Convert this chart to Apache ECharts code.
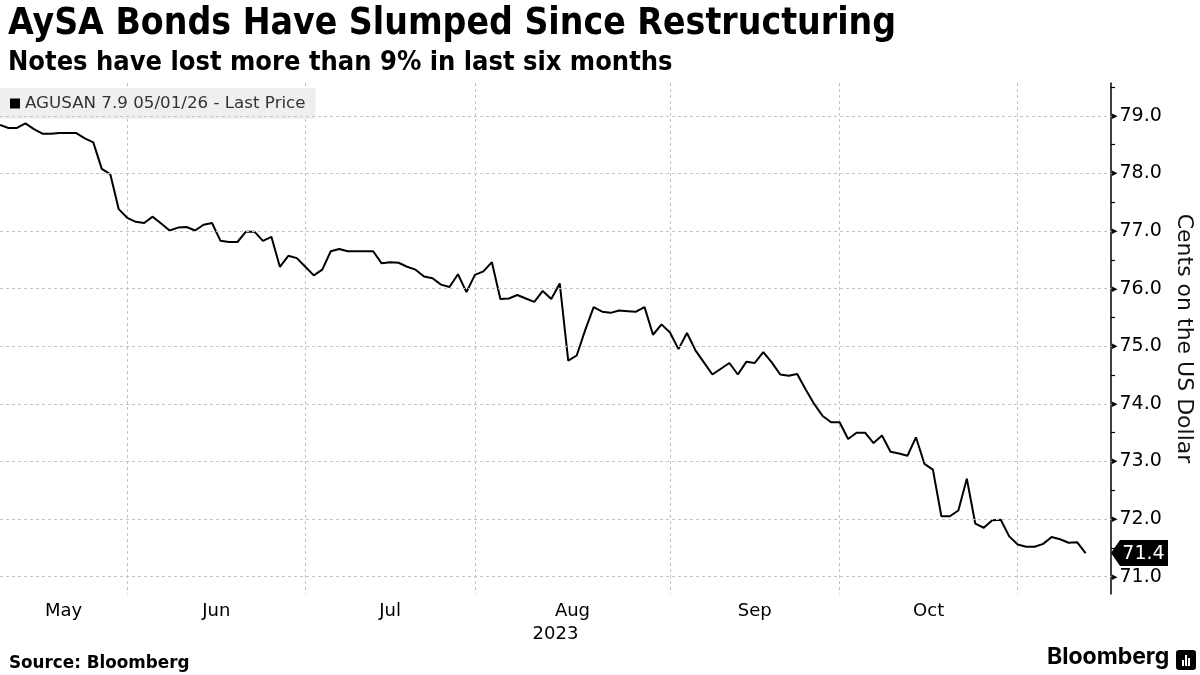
<!DOCTYPE html>
<html><head><meta charset="utf-8">
<script src="https://cdn.jsdelivr.net/npm/echarts@6/dist/echarts.min.js"></script>
<style>html,body{margin:0;padding:0;background:#fff}#c{width:1200px;height:675px}</style>
</head><body><div id="c"></div>
<script>
// Trading days (category axis)
const dates = [
 '2023-05-10','2023-05-11','2023-05-12','2023-05-15','2023-05-16','2023-05-17','2023-05-18','2023-05-19','2023-05-22','2023-05-23','2023-05-24','2023-05-25','2023-05-26','2023-05-30','2023-05-31',
 '2023-06-01','2023-06-02','2023-06-05','2023-06-06','2023-06-07','2023-06-08','2023-06-09','2023-06-12','2023-06-13','2023-06-14','2023-06-15','2023-06-16','2023-06-20','2023-06-21','2023-06-22','2023-06-23','2023-06-26','2023-06-27','2023-06-28','2023-06-29','2023-06-30',
 '2023-07-03','2023-07-05','2023-07-06','2023-07-07','2023-07-10','2023-07-11','2023-07-12','2023-07-13','2023-07-14','2023-07-17','2023-07-18','2023-07-19','2023-07-20','2023-07-21','2023-07-24','2023-07-25','2023-07-26','2023-07-27','2023-07-28','2023-07-31',
 '2023-08-01','2023-08-02','2023-08-03','2023-08-04','2023-08-07','2023-08-08','2023-08-09','2023-08-10','2023-08-11','2023-08-14','2023-08-15','2023-08-16','2023-08-17','2023-08-18','2023-08-21','2023-08-22','2023-08-23','2023-08-24','2023-08-25','2023-08-28','2023-08-29','2023-08-30','2023-08-31',
 '2023-09-01','2023-09-05','2023-09-06','2023-09-07','2023-09-08','2023-09-11','2023-09-12','2023-09-13','2023-09-14','2023-09-15','2023-09-18','2023-09-19','2023-09-20','2023-09-21','2023-09-22','2023-09-25','2023-09-26','2023-09-27','2023-09-28','2023-09-29',
 '2023-10-02','2023-10-03','2023-10-04','2023-10-05','2023-10-06','2023-10-10','2023-10-11','2023-10-12','2023-10-13','2023-10-16','2023-10-17','2023-10-18','2023-10-19','2023-10-20','2023-10-23','2023-10-24','2023-10-25','2023-10-26','2023-10-27','2023-10-30','2023-10-31',
 '2023-11-01','2023-11-02','2023-11-03','2023-11-06','2023-11-07','2023-11-08','2023-11-09','2023-11-10','2023-11-13'
];
// Empty trailing days so the plot reaches the right-hand axis
const padDates = ['2023-11-14','2023-11-15','2023-11-16'];

const prices = [
 78.84,78.79,78.79,78.87,78.77,78.69,78.69,78.70,78.70,78.70,78.61,78.54,78.08,77.99,77.38,
 77.23,77.16,77.14,77.25,77.13,77.01,77.06,77.07,77.01,77.11,77.14,76.83,76.81,76.81,76.99,76.99,76.83,76.90,76.38,76.57,76.53,
 76.38,76.23,76.33,76.65,76.69,76.65,76.65,76.65,76.65,76.44,76.46,76.45,76.38,76.33,76.21,76.18,76.07,76.03,76.25,75.94,
 76.24,76.30,76.46,75.82,75.83,75.89,75.83,75.77,75.96,75.82,76.09,74.75,74.84,75.28,75.68,75.60,75.58,75.62,75.61,75.60,75.68,75.20,75.38,
 75.24,74.95,75.23,74.93,74.72,74.51,74.61,74.71,74.51,74.73,74.71,74.90,74.72,74.51,74.49,74.52,74.25,74.00,73.79,73.68,
 73.68,73.39,73.50,73.50,73.32,73.45,73.17,73.14,73.10,73.42,72.96,72.86,72.05,72.05,72.15,72.70,71.92,71.85,71.98,71.99,71.70,
 71.56,71.52,71.52,71.57,71.69,71.65,71.59,71.60,71.41
];

const yLabelValues = [71,72,73,74,75,76,77,78,79];
const yMinorTicks = [71.5,72.5,73.5,74.5,75.5,76.5,77.5,78.5,79.5];
const yMin = 70.7, yMax = 79.57;
const monthNames = {'05':'May','06':'Jun','07':'Jul','08':'Aug','09':'Sep','10':'Oct','11':'Nov'};
const yearLabel = '2023';
const seriesName = 'AGUSAN 7.9 05/01/26 - Last Price';

const allDates = dates.concat(padDates);
// month start indices
const monthStarts = [];
allDates.forEach((d, i) => {
  if (i === 0 || d.slice(5,7) !== allDates[i-1].slice(5,7)) monthStarts.push(i);
});
const monthStartSet = new Set(monthStarts.filter(i => i > 0));
const monthMids = [];
const monthMidName = {};
for (let k = 0; k < monthStarts.length - 1; k++) {
  const mid = (monthStarts[k] + monthStarts[k+1]) / 2;
  monthMids.push(mid);
  monthMidName[mid] = monthNames[allDates[monthStarts[k]].slice(5,7)];
}
const last = prices[prices.length - 1];
const gridDash = {color: '#c4c4c4', width: 1, type: [3, 3]};

const chart = echarts.init(document.getElementById('c'));
chart.setOption({
  animation: false,
  backgroundColor: '#fff',
  title: [
    {text: 'AySA Bonds Have Slumped Since Restructuring', left: 3, top: 1,
     textStyle: {fontFamily: 'DejaVu Sans Condensed', fontWeight: 'bold', fontSize: 37, color: '#000'}},
    {text: 'Notes have lost more than 9% in last six months', left: 3, top: 44,
     textStyle: {fontFamily: 'DejaVu Sans Condensed', fontWeight: 'bold', fontSize: 27, color: '#000'}},
    {text: 'Source: Bloomberg', left: 4, top: 650,
     textStyle: {fontFamily: 'DejaVu Sans', fontWeight: 'bold', fontSize: 16.8, color: '#000'}}
  ],
  legend: {
    data: [seriesName], left: 0, top: 88, padding: [7, 10, 7, 10],
    backgroundColor: '#efefef', icon: 'rect', itemWidth: 10, itemHeight: 10, itemGap: 5,
    selectedMode: false,
    textStyle: {fontFamily: 'DejaVu Sans', fontSize: 16.7, color: '#333'}
  },
  grid: {left: 0, right: 89, top: 83, bottom: 81, containLabel: false, outerBoundsMode: 'none'},
  xAxis: [
    {type: 'category', data: allDates, boundaryGap: false,
     axisLine: {show: false}, axisTick: {show: false}, axisLabel: {show: false},
     splitLine: {show: true, interval: (i) => monthStartSet.has(i), lineStyle: gridDash}},
    {type: 'value', min: 0, max: allDates.length - 1, position: 'bottom',
     axisLine: {show: false, onZero: false}, axisTick: {show: false}, splitLine: {show: false},
     axisLabel: {show: true, customValues: monthMids, margin: 8,
       formatter: (v) => monthMidName[v] || '',
       fontFamily: 'DejaVu Sans', fontSize: 18, color: '#000'},
     name: yearLabel, nameLocation: 'middle', nameGap: 31,
     nameTextStyle: {fontFamily: 'DejaVu Sans', fontSize: 18, color: '#000'}}
  ],
  yAxis: {
    type: 'value', position: 'right', min: yMin, max: yMax,
    axisLine: {show: true, onZero: false, lineStyle: {color: '#000', width: 1.5}},
    axisTick: {show: true, customValues: yMinorTicks, length: 4, inside: false, lineStyle: {color: '#000', width: 1.2}},
    splitLine: {show: false},
    axisLabel: {show: true, customValues: yLabelValues, margin: 1,
      formatter: (v) => '{a|▸}{b|' + v.toFixed(1) + '}',
      rich: {a: {fontSize: 11, color: '#000', fontFamily: 'DejaVu Sans'},
             b: {fontSize: 19, color: '#000', fontFamily: 'DejaVu Sans', padding: [0, 0, 0, 2]}}},
    name: 'Cents on the US Dollar', nameLocation: 'middle', nameRotate: -90, nameGap: 62,
    nameTextStyle: {fontFamily: 'DejaVu Sans', fontSize: 22, color: '#111'}
  },
  series: [
    {name: '_grid', type: 'line', data: [], z: 1, silent: true, clip: false,
     markLine: {silent: true, symbol: ['none', 'none'], animation: false,
       label: {show: false}, lineStyle: gridDash,
       data: yLabelValues.map(v => ({yAxis: v}))}},
    {name: seriesName, type: 'line', data: prices, z: 3, clip: false,
     showSymbol: false, symbol: 'none', smooth: false,
     itemStyle: {color: '#000'}, lineStyle: {color: '#000', width: 2},
     markPoint: {silent: true, animation: false,
       data: [{coord: [allDates[allDates.length - 1], last], value: last,
         symbol: 'path://M0,13L9,0H57V26H9Z', symbolSize: [57, 26], symbolOffset: [28.5, 0],
         itemStyle: {color: '#000'},
         label: {show: true, position: 'inside', offset: [4, 1],
           formatter: () => last.toFixed(1),
           color: '#fff', fontSize: 19, fontFamily: 'DejaVu Sans'}}]}}
  ],
  graphic: [
    {type: 'text', left: 1047, top: 646,
     style: {text: 'Bloomberg', fontFamily: 'Inter', fontWeight: 'bold', fontSize: 23, fill: '#000'}},
    {type: 'group', left: 1176, top: 650, children: [
      {type: 'rect', shape: {x: 0, y: 0, width: 20, height: 20, r: 3}, style: {fill: '#000'}},
      {type: 'rect', shape: {x: 6, y: 10, width: 2, height: 6}, style: {fill: '#fff'}},
      {type: 'rect', shape: {x: 9, y: 5, width: 2, height: 11}, style: {fill: '#fff'}},
      {type: 'rect', shape: {x: 12, y: 8, width: 2, height: 8}, style: {fill: '#fff'}}
    ]}
  ]
});
</script></body></html>
